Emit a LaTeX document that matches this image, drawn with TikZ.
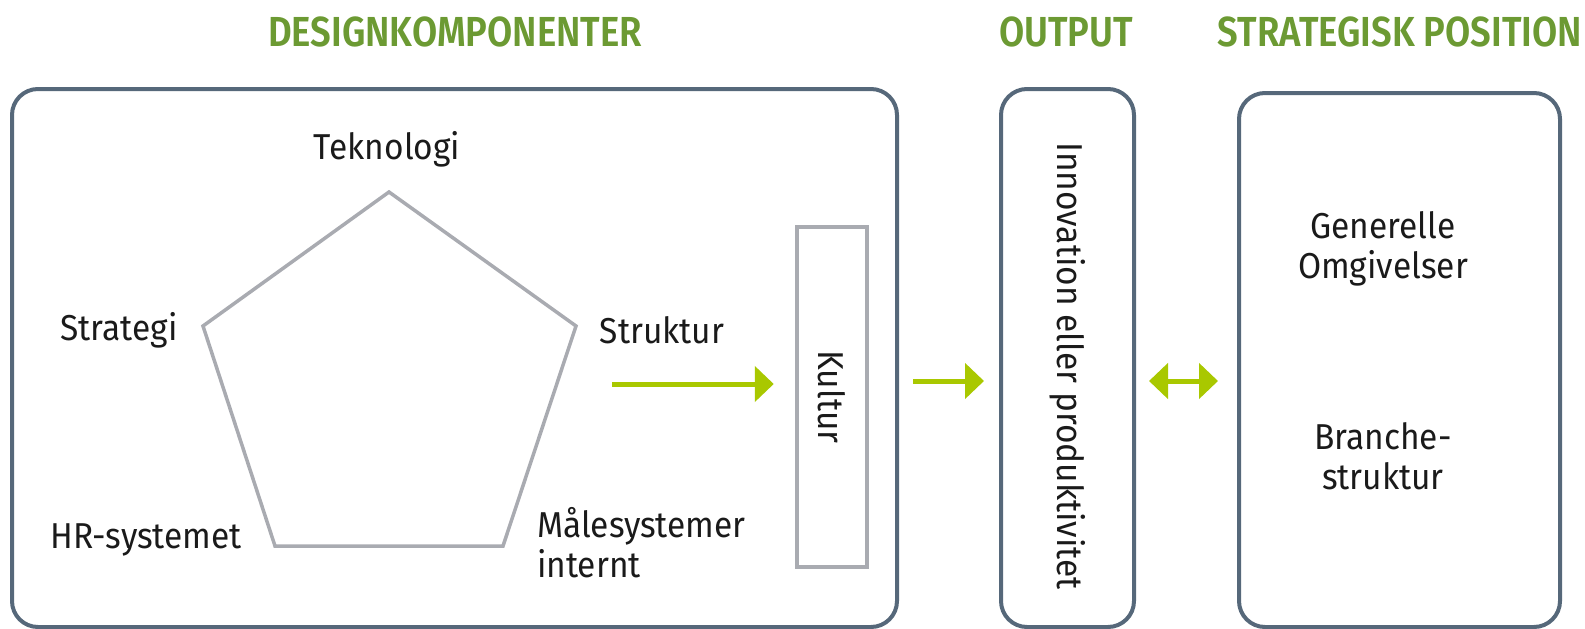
\documentclass[tikz,border=0pt]{standalone}
\usepackage{fontspec}
\setmainfont{Fira Sans}[FakeStretch=0.93]
\newfontfamily\titlefont{Fira Sans SemiBold}[FakeStretch=0.87]
\usetikzlibrary{arrows.meta}
\definecolor{boxline}{HTML}{56687A}
\definecolor{pentgray}{HTML}{A9ABB1}
\definecolor{titlegreen}{HTML}{6C9A33}
\definecolor{arrowgreen}{HTML}{A9C800}
\definecolor{txt}{HTML}{1A1A1A}
\begin{document}
\begin{tikzpicture}[x=1pt,y=-1pt,
  bigbox/.style={draw=boxline, line width=4, rounded corners=26, rectangle, inner sep=0},
  graybox/.style={draw=pentgray, line width=4.5, rectangle, inner sep=0},
  lbl/.style={text=txt, font=\fontsize{36}{40}\selectfont, inner sep=0},
  ttl/.style={text=titlegreen, font=\titlefont\fontsize{42}{46}\selectfont, inner sep=0},
  garrow/.style={draw=arrowgreen, line width=5, -{Triangle[length=19,width=35]}},
  gdarrow/.style={draw=arrowgreen, line width=5, {Triangle[length=19,width=35]}-{Triangle[length=19,width=35]}}]
\useasboundingbox (0,0) rectangle (1585,629);

% titles
\node[ttl] (t1) at (455,32) {DESIGNKOMPONENTER};
\node[ttl] (t2) at (1066,32) {OUTPUT};
\node[ttl] (t3) at (1400,32) {STRATEGISK POSITION};

% boxes
\node[bigbox, minimum width=885, minimum height=538] (design) at (454.5,358) {};
\node[bigbox, minimum width=133, minimum height=538] (output) at (1067.5,358) {};
\node[bigbox, minimum width=321, minimum height=534] (strat) at (1399.5,360) {};

% pentagon
\coordinate (pA) at (389,192);
\coordinate (pB) at (576,326);
\coordinate (pC) at (503,546);
\coordinate (pD) at (275,546);
\coordinate (pE) at (203,326);
\draw[pentgray, line width=3.5, line join=miter] (pA) -- (pB) -- (pC) -- (pD) -- (pE) -- cycle;

% labels
\node[lbl] (tek) at (387,149) {Teknologi};
\node[lbl] (strg) at (119,330) {Strategi};
\node[lbl] (struk) at (662,330) {Struktur};
\node[lbl] (hr) at (146,540) {HR-systemet};
\node[lbl, anchor=west, align=left, font=\fontsize{36}{40}\selectfont] (maal) at (537,543) {Målesystemer\\internt};

% kultur
\node[graybox, minimum width=70, minimum height=340] (kultur) at (832,397) {};
\node[lbl, rotate=-90] (kulturtxt) at (kultur.center) {Kultur};

% output text
\node[lbl, rotate=-90] (outtxt) at (1068,366) {Innovation eller produktivitet};

% strategic texts
\node[lbl, align=center] (gen) at (1383,249) {Generelle\\Omgivelser};
\node[lbl, align=center] (bra) at (1383,456) {Branche-\\struktur};

% arrows
\coordinate (a1s) at (612,384);
\coordinate (a1e) at ([xshift=-21]kultur.west |- a1s);
\draw[garrow] (a1s) -- (a1e);
\coordinate (a2s) at (913,381);
\coordinate (a2e) at ([xshift=-15]output.west |- a2s);
\draw[garrow] (a2s) -- (a2e);
\coordinate (a3s) at ([xshift=13]output.east |- a2s);
\coordinate (a3e) at ([xshift=-19]strat.west |- a2s);
\draw[gdarrow] (a3s) -- (a3e);
\end{tikzpicture}
\end{document}
